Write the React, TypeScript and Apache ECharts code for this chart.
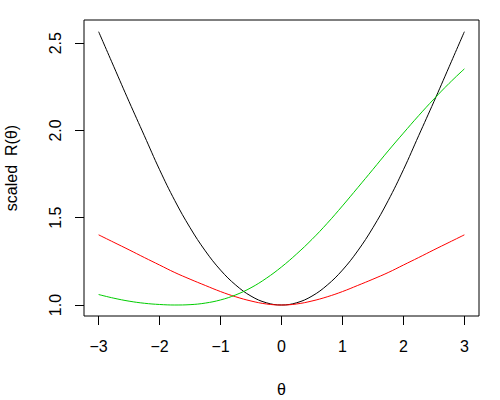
import React, { useEffect, useRef } from "react";
import * as echarts from "echarts";

const theta = [-3, -2.75, -2.5, -2.25, -2, -1.75, -1.5, -1.25, -1, -0.75, -0.5, -0.25, 0, 0.25, 0.5, 0.75, 1, 1.25, 1.5, 1.75, 2, 2.25, 2.5, 2.75, 3];
const blackR = [2.566, 2.365, 2.165, 1.97, 1.775, 1.598, 1.443, 1.31, 1.2, 1.114, 1.051, 1.013, 1.0, 1.013, 1.051, 1.114, 1.2, 1.31, 1.443, 1.598, 1.775, 1.97, 2.165, 2.365, 2.566];
const redR = [1.402, 1.359, 1.316, 1.272, 1.229, 1.186, 1.148, 1.112, 1.077, 1.047, 1.023, 1.006, 1.0, 1.006, 1.023, 1.047, 1.077, 1.112, 1.148, 1.186, 1.229, 1.272, 1.316, 1.359, 1.402];
const greenR = [1.06, 1.039, 1.022, 1.01, 1.003, 1.0, 1.002, 1.011, 1.029, 1.058, 1.099, 1.153, 1.218, 1.293, 1.376, 1.468, 1.568, 1.672, 1.777, 1.883, 1.985, 2.085, 2.18, 2.27, 2.353];
const xTicks = [-3, -2, -1, 0, 1, 2, 3];
const yTicks = [1.0, 1.5, 2.0, 2.5];

const FONT = "Liberation Sans, Arial, Helvetica, sans-serif";

function pairs(ys: number[]) {
  return theta.map((t, i) => [t, ys[i]]);
}

export default function App() {
  const ref = useRef<HTMLDivElement>(null);
  useEffect(() => {
    document.body.style.margin = "0";
    const chart = echarts.init(ref.current!, null, { renderer: "svg" });
    const lineSeries = (data: number[], color: string) => ({
      type: "line",
      data: pairs(data),
      smooth: 0.4,
      showSymbol: false,
      lineStyle: { color, width: 1 },
      itemStyle: { color },
    });
    chart.setOption({
      animation: false,
      backgroundColor: "#ffffff",
      grid: {
        left: 84,
        right: 21,
        top: 20,
        bottom: 84,
        containLabel: false,
        outerBoundsMode: "none",
        show: true,
        borderColor: "#000",
        borderWidth: 1,
        backgroundColor: "transparent",
      },
      xAxis: {
        type: "value",
        min: -3.24,
        max: 3.24,
        name: "θ",
        nameLocation: "middle",
        nameGap: 65,
        nameTextStyle: { color: "#000", fontSize: 16, fontFamily: FONT },
        axisLine: { show: false, onZero: false },
        splitLine: { show: false },
        axisTick: { show: true, customValues: xTicks, length: 9, lineStyle: { color: "#000" } },
        axisLabel: {
          customValues: xTicks,
          color: "#000",
          fontSize: 16,
          fontFamily: FONT,
          margin: 22,
          formatter: (v: number) => String(v).replace("-", "\u2212"),
        },
      },
      yAxis: {
        type: "value",
        min: 0.937,
        max: 2.633,
        name: "scaled  R(θ)",
        nameLocation: "middle",
        nameGap: 65,
        nameTextStyle: { color: "#000", fontSize: 16, fontFamily: FONT },
        axisLine: { show: false, onZero: false },
        splitLine: { show: false },
        axisTick: { show: true, customValues: yTicks, length: 9, lineStyle: { color: "#000" } },
        axisLabel: {
          customValues: yTicks,
          rotate: 90,
          color: "#000",
          fontSize: 16,
          fontFamily: FONT,
          margin: 21,
          formatter: (v: number) => v.toFixed(1),
        },
      },
      series: [
        lineSeries(blackR, "#000000"),
        lineSeries(redR, "#ff0000"),
        lineSeries(greenR, "#00cd00"),
      ],
    });
    return () => chart.dispose();
  }, []);
  return <div ref={ref} style={{ width: 500, height: 400, position: "absolute", left: 0, top: 0 }} />;
}
